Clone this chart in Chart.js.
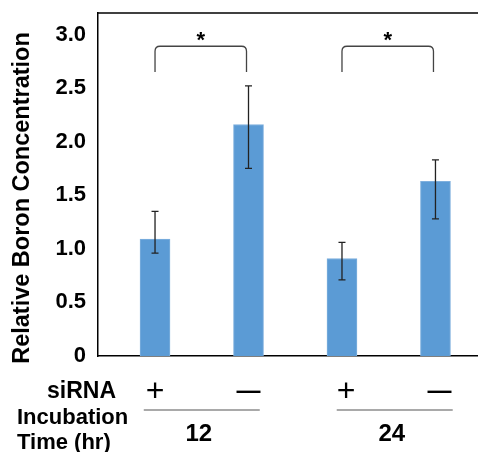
<!DOCTYPE html>
<html>
<head>
<meta charset="utf-8">
<script src="https://cdn.jsdelivr.net/npm/chart.js@4"></script>
<style>
  html, body { margin: 0; padding: 0; background: #fff; }
</style>
</head>
<body>
<canvas id="chart" width="478" height="452"></canvas>
<script>
const categories = ['12 hr siRNA +', '12 hr siRNA -', '24 hr siRNA +', '24 hr siRNA -'];
const siRNA = ['+', '\u2014', '+', '\u2014'];
const times = ['12', '24'];
const values = [1.09, 2.16, 0.91, 1.63];
const errHigh = [1.35, 2.52, 1.06, 1.83];
const errLow = [0.96, 1.75, 0.71, 1.28];
const yTicks = [0, 0.5, 1.0, 1.5, 2.0, 2.5, 3.0];
const yTickLabels = ['0', '0.5', '1.0', '1.5', '2.0', '2.5', '3.0'];
const sigPairs = [[0, 1], [2, 3]];

const FONT = '"Liberation Sans", Arial, Helvetica, sans-serif';

const extras = {
  id: 'extras',
  afterDatasetsDraw(chart) {
    const ctx = chart.ctx;
    const xs = chart.scales.x, ys = chart.scales.y;
    const area = chart.chartArea;
    ctx.save();

    // top frame line
    ctx.strokeStyle = '#000';
    ctx.lineWidth = 1.5;
    ctx.beginPath();
    ctx.moveTo(area.left, area.top);
    ctx.lineTo(478, area.top);
    ctx.stroke();

    // error bars
    ctx.strokeStyle = '#222';
    ctx.lineWidth = 1.3;
    values.forEach((v, i) => {
      const px = xs.getPixelForValue(i);
      const hi = ys.getPixelForValue(errHigh[i]);
      const lo = ys.getPixelForValue(errLow[i]);
      ctx.beginPath();
      ctx.moveTo(px, hi); ctx.lineTo(px, lo);
      ctx.moveTo(px - 3.5, hi); ctx.lineTo(px + 3.5, hi);
      ctx.moveTo(px - 3.5, lo); ctx.lineTo(px + 3.5, lo);
      ctx.stroke();
    });

    // significance brackets
    const topY = ys.getPixelForValue(2.89);
    const legY = ys.getPixelForValue(2.65);
    const r = 5;
    ctx.strokeStyle = '#444';
    ctx.lineWidth = 1.3;
    sigPairs.forEach(([a, b]) => {
      const x1 = xs.getPixelForValue(a), x2 = xs.getPixelForValue(b) - 2;
      ctx.beginPath();
      ctx.moveTo(x1, legY);
      ctx.lineTo(x1, topY + r);
      ctx.quadraticCurveTo(x1, topY, x1 + r, topY);
      ctx.lineTo(x2 - r, topY);
      ctx.quadraticCurveTo(x2, topY, x2, topY + r);
      ctx.lineTo(x2, legY);
      ctx.stroke();
      ctx.fillStyle = '#000';
      ctx.font = 'bold 22px ' + FONT;
      ctx.textAlign = 'center';
      ctx.textBaseline = 'alphabetic';
      ctx.fillText('*', (x1 + x2) / 2, topY + 1);
    });

    // y axis title
    ctx.save();
    ctx.translate(23, 198);
    ctx.rotate(-Math.PI / 2);
    ctx.fillStyle = '#000';
    ctx.font = 'bold 23.5px ' + FONT;
    ctx.textAlign = 'center';
    ctx.textBaseline = 'middle';
    ctx.fillText('Relative Boron Concentration', 0, 0);
    ctx.restore();

    // siRNA row
    ctx.fillStyle = '#000';
    ctx.textBaseline = 'middle';
    ctx.textAlign = 'left';
    ctx.font = 'bold 23px ' + FONT;
    ctx.fillText('siRNA', 47, 392);
    ctx.textAlign = 'center';
    siRNA.forEach((s, i) => {
      const px = xs.getPixelForValue(i) + (i > 1 ? 4 : 0);
      if (s === '+') {
        ctx.font = '32px ' + FONT;
        ctx.fillText(s, px, 392);
      } else {
        ctx.font = 'bold 24px ' + FONT;
        ctx.fillText(s, px, 391);
      }
    });

    // incubation time row
    ctx.textAlign = 'left';
    ctx.font = 'bold 22px ' + FONT;
    ctx.fillText('Incubation', 17, 418);
    ctx.fillText('Time (hr)', 17, 443);
    ctx.strokeStyle = '#555';
    ctx.lineWidth = 1.2;
    times.forEach((t, g) => {
      const c = (xs.getPixelForValue(g * 2) + xs.getPixelForValue(g * 2 + 1)) / 2 + (g ? 6 : 0);
      ctx.beginPath();
      ctx.moveTo(c - 58, 410);
      ctx.lineTo(c + 58, 410);
      ctx.stroke();
      ctx.font = 'bold 24px ' + FONT;
      ctx.textAlign = 'center';
      ctx.fillText(t, c - 3, 434);
    });

    ctx.restore();
  }
};

new Chart(document.getElementById('chart'), {
  type: 'bar',
  data: {
    labels: categories,
    datasets: [{
      label: 'Relative Boron Concentration',
      data: values.map((v, i) => ({ x: i, y: v })),
      backgroundColor: '#5b9bd5',
      borderColor: '#7fb0de',
      borderWidth: 1,
      barThickness: 30,
    }],
  },
  options: {
    responsive: false,
    animation: false,
    layout: { padding: { top: 13, bottom: 96, left: 0, right: 0 } },
    scales: {
      x: {
        type: 'linear',
        offset: false,
        min: -0.61,
        max: 3.455,
        ticks: { display: false },
        grid: { display: false, drawTicks: false, offset: false },
        border: { display: true, color: '#000', width: 1.5 },
        afterFit: (scale) => {
          scale.height = 0;
          scale.paddingLeft = 0;
          scale.paddingRight = 0;
        },
      },
      y: {
        min: 0,
        max: 3.2,
        afterBuildTicks: (scale) => {
          scale.ticks = yTicks.map((v) => ({ value: v }));
        },
        ticks: {
          color: '#000',
          padding: 12,
          font: { family: FONT, size: 22, weight: 'bold' },
          callback: (value) => yTickLabels[yTicks.indexOf(value)],
        },
        grid: { display: false, drawTicks: false },
        border: { display: true, color: '#000', width: 1.5 },
        afterFit: (scale) => {
          scale.width = 98;
          scale.paddingTop = 0;
          scale.paddingBottom = 0;
        },
      },
    },
    plugins: {
      legend: { display: false },
      tooltip: { enabled: false },
    },
  },
  plugins: [extras],
});
</script>
</body>
</html>
